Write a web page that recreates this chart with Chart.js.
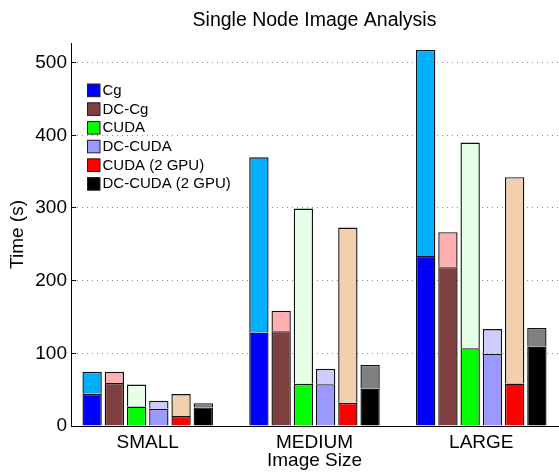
<!DOCTYPE html>
<html>
<head>
<meta charset="utf-8">
<script src="https://cdn.jsdelivr.net/npm/chart.js@4/dist/chart.umd.min.js"></script>
<style>
html,body{margin:0;padding:0;background:#fff;}
canvas{display:block;}
</style>
</head>
<body>
<canvas id="c" width="559" height="472"></canvas>
<script>
// ---- data ----
const categories = ['SMALL', 'MEDIUM', 'LARGE'];
const seriesNames = ['Cg', 'DC-Cg', 'CUDA', 'DC-CUDA', 'CUDA (2 GPU)', 'DC-CUDA (2 GPU)'];
const chartTitle = 'Single Node Image Analysis';
// lower (dark) part of each bar
const cgLower      = [44.3, 128.6, 234.0];
const dcCgLower    = [59.0, 130.5, 218.6];
const cudaLower    = [26.8, 58.0, 107.1];
const dcCudaLower  = [23.7, 57.6, 99.3];
const cuda2Lower   = [13.6, 32.0, 58.5];
const dcCuda2Lower = [25.5, 51.6, 109.4];
// total height of each bar
const cgTotal      = [74.6, 369.8, 517.5];
const dcCgTotal    = [74.6, 158.5, 266.7];
const cudaTotal    = [57.0, 299.2, 390.0];
const dcCudaTotal  = [34.7, 78.7, 133.3];
const cuda2Total   = [43.9, 273.0, 342.4];
const dcCuda2Total = [31.4, 84.0, 135.0];
const yTicks = [0, 100, 200, 300, 400, 500];

const lowerColors = ['#0000ff', '#804040', '#00ff00', '#9999ff', '#ff0000', '#000000'];
const upperColors = ['#00b0ff', '#ffb0b0', '#e6ffe6', '#ccccff', '#f2d0af', '#808080'];

const lowers = [cgLower, dcCgLower, cudaLower, dcCudaLower, cuda2Lower, dcCuda2Lower];
const totals = [cgTotal, dcCgTotal, cudaTotal, dcCudaTotal, cuda2Total, dcCuda2Total];

const FONT = "'Liberation Sans', Arial, Helvetica, sans-serif";
Chart.defaults.font.family = FONT;
Chart.defaults.color = '#000';

const datasets = [];
seriesNames.forEach((name, s) => {
  datasets.push({
    label: name,
    stack: 's' + s,
    data: lowers[s].map((v, i) => ({x: i + 1, y: v})),
    backgroundColor: lowerColors[s],
    borderColor: '#111',
    borderWidth: 1.4,
    categoryPercentage: 0.8,
    barPercentage: 0.87
  });
  datasets.push({
    label: name + ' (rest)',
    stack: 's' + s,
    data: totals[s].map((v, i) => ({x: i + 1, y: v - lowers[s][i]})),
    backgroundColor: upperColors[s],
    borderColor: '#111',
    borderWidth: 1.4,
    categoryPercentage: 0.8,
    barPercentage: 0.87
  });
});

const titleAndLegend = {
  id: 'titleAndLegend',
  afterDatasetsDraw(chart) {
    const ctx = chart.ctx;
    const area = chart.chartArea;
    ctx.save();
    // title centred over the plot area
    ctx.font = '19.5px ' + FONT;
    ctx.fillStyle = '#000';
    ctx.textAlign = 'center';
    ctx.textBaseline = 'middle';
    ctx.fillText(chartTitle, (area.left + area.right) / 2, 20.5);
    // legend inside the plot
    ctx.font = '15px ' + FONT;
    ctx.textAlign = 'left';
    seriesNames.forEach((name, i) => {
      const cy = 90.2 + i * 18.7;
      ctx.fillStyle = lowerColors[i];
      ctx.fillRect(87, cy - 6.5, 13, 13);
      ctx.strokeStyle = '#222';
      ctx.lineWidth = 1;
      ctx.strokeRect(87.5, cy - 6, 12.5, 12.5);
      ctx.fillStyle = '#000';
      ctx.fillText(name, 102.5, cy + 0.5);
    });
    ctx.restore();
  }
};

new Chart(document.getElementById('c'), {
  type: 'bar',
  data: { datasets },
  options: {
    responsive: false,
    animation: false,
    devicePixelRatio: 1,
    layout: { padding: { left: 0, right: 1, top: 43, bottom: 0 } },
    plugins: {
      legend: { display: false },
      tooltip: { enabled: false },
      title: { display: false }
    },
    scales: {
      x: {
        type: 'linear',
        min: 0.54,
        max: 3.46,
        offset: false,
        afterBuildTicks(scale) {
          scale.ticks = categories.map((c, i) => ({ value: i + 1 }));
        },
        afterFit(scale) { scale.height = 46; },
        grid: { display: false, drawTicks: false, offset: false },
        border: { display: true, color: '#000', width: 1 },
        ticks: {
          autoSkip: false,
          maxRotation: 0,
          padding: 5,
          color: '#000',
          font: { size: 19, family: FONT },
          callback: (v, i) => categories[i]
        },
        title: {
          display: true,
          text: 'Image Size',
          color: '#000',
          font: { size: 19, family: FONT },
          padding: { top: 0, bottom: 0 }
        }
      },
      y: {
        stacked: true,
        min: 0,
        max: 527,
        afterBuildTicks(scale) {
          scale.ticks = yTicks.map(v => ({ value: v }));
        },
        afterFit(scale) { scale.width = 71; },
        grid: {
          color: (c) => (c.tick && c.tick.value === 0) ? 'rgba(0,0,0,0)' : '#8a8a8a',
          lineWidth: 1,
          drawTicks: true,
          tickLength: -5,
          tickColor: '#000',
          tickBorderDash: []
        },
        border: { display: true, color: '#000', width: 1, dash: [1, 4] },
        ticks: {
          padding: 9,
          color: '#000',
          font: { size: 19, family: FONT }
        },
        title: {
          display: true,
          text: 'Time (s)',
          color: '#000',
          font: { size: 19, family: FONT },
          padding: { top: 6, bottom: 0 }
        }
      }
    }
  },
  plugins: [titleAndLegend]
});
</script>
</body>
</html>
